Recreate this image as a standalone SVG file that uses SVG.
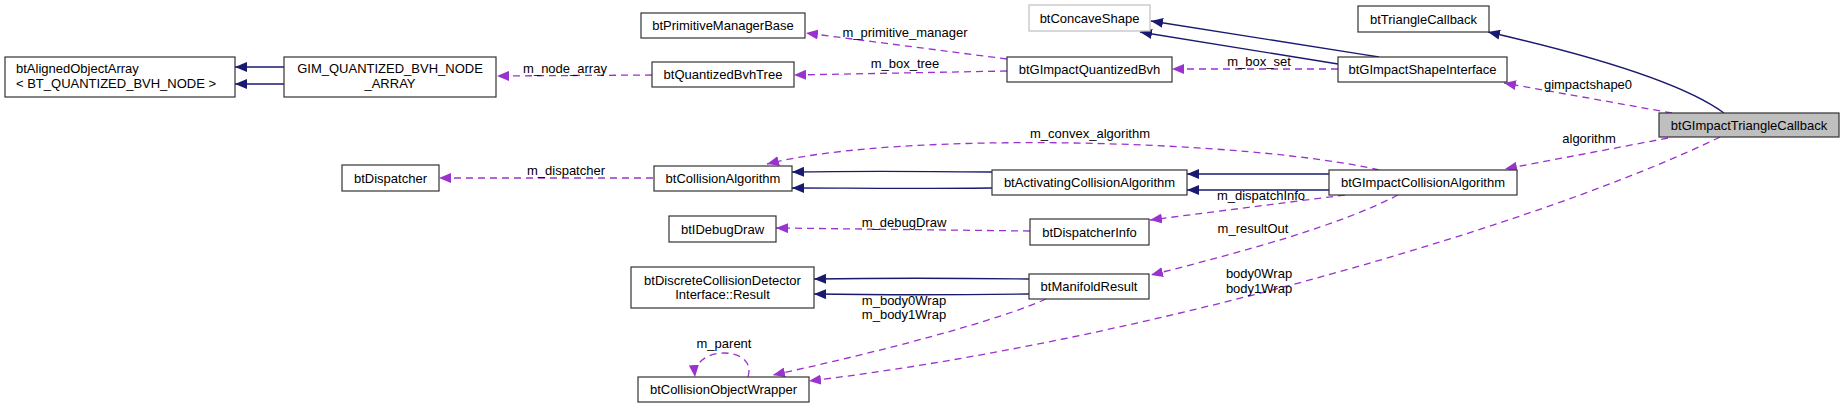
<svg xmlns="http://www.w3.org/2000/svg" width="1844" height="408" viewBox="0 0 1844 408">
<style>
text{font-family:"Liberation Sans",Arial,sans-serif;font-size:13px;fill:#000}
.n rect{fill:#fff;stroke:#333;stroke-width:1.2}
.n text{text-anchor:middle}
.g rect{stroke:#bfbfbf}
.cur rect{fill:#bfbfbf}
.inh{fill:none;stroke:#191970;stroke-width:1.3;marker-end:url(#an)}
.use{fill:none;stroke:#9a32cd;stroke-width:1.3;stroke-dasharray:7,5;marker-end:url(#ap)}
.lbl{text-anchor:middle}
</style>
<defs>
<marker id="an" viewBox="0 0 12 10" refX="12" refY="5" markerWidth="12" markerHeight="10" markerUnits="userSpaceOnUse" orient="auto"><path d="M0,0 L12,5 L0,10 z" fill="#191970" stroke="none"/></marker>
<marker id="ap" viewBox="0 0 12 10" refX="12" refY="5" markerWidth="12" markerHeight="10" markerUnits="userSpaceOnUse" orient="auto"><path d="M0,0 L12,5 L0,10 z" fill="#9a32cd" stroke="none"/></marker>
</defs>
<rect width="1844" height="408" fill="#fff"/>
<g id="edges">
<path class="inh" d="M284,67 H235"/>
<path class="inh" d="M284,84 H235"/>
<path class="inh" d="M1379,57 C1300,44 1220,32 1151,21"/>
<path class="inh" d="M1338,64 C1260,52 1200,42 1140,32"/>
<path class="inh" d="M1724,113 C1690,88 1620,62 1488,32"/>
<path class="inh" d="M992,172 C900,171 850,171 792,172"/>
<path class="inh" d="M992,188 C900,189 850,188 792,188"/>
<path class="inh" d="M1329,174 H1187"/>
<path class="inh" d="M1329,190 H1187"/>
<path class="inh" d="M1029,279 C950,278 880,278 814,279"/>
<path class="inh" d="M1029,294 C950,295 880,295 814,294"/>
<path class="use" d="M652,75 L497,76"/>
<path class="use" d="M1007,59 L806,33"/>
<path class="use" d="M1007,71 L794,75"/>
<path class="use" d="M1338,69 L1172,69"/>
<path class="use" d="M1672,113 L1504,83"/>
<path class="use" d="M1668,138 L1505,169"/>
<path class="use" d="M1720,137 C1550,220 1150,340 809,381"/>
<path class="use" d="M1379,170 C1250,140 900,130 767,164"/>
<path class="use" d="M653,178 L439,178"/>
<path class="use" d="M1345,195 L1150,220"/>
<path class="use" d="M1030,231 L776,228"/>
<path class="use" d="M1398,195 C1340,225 1250,250 1151,275"/>
<path class="use" d="M1046,299 C1000,320 880,352 773,375"/>
<path class="use" d="M748,377 C758,345 692,345 695,377"/>
<text class="lbl" x="565" y="72.5">m_node_array</text>
<text class="lbl" x="905" y="36.5">m_primitive_manager</text>
<text class="lbl" x="905" y="67.5">m_box_tree</text>
<text class="lbl" x="1259" y="65.5">m_box_set</text>
<text class="lbl" x="1588" y="88.5">gimpactshape0</text>
<text class="lbl" x="1589" y="143">algorithm</text>
<text class="lbl" x="1259" y="277.5">body0Wrap</text>
<text class="lbl" x="1259" y="292.5">body1Wrap</text>
<text class="lbl" x="1090" y="137.5">m_convex_algorithm</text>
<text class="lbl" x="566" y="174.5">m_dispatcher</text>
<text class="lbl" x="1261" y="200">m_dispatchInfo</text>
<text class="lbl" x="904" y="227">m_debugDraw</text>
<text class="lbl" x="1253" y="232.5">m_resultOut</text>
<text class="lbl" x="904" y="304.5">m_body0Wrap</text>
<text class="lbl" x="904" y="318.5">m_body1Wrap</text>
<text class="lbl" x="724" y="348">m_parent</text>
</g>
<g id="btAlignedObjectArray" class="n"><rect x="5" y="57" width="230" height="40"/><text x="16" y="72.5" style="text-anchor:start">btAlignedObjectArray</text><text x="16" y="87.5" style="text-anchor:start">&lt; BT_QUANTIZED_BVH_NODE &gt;</text></g>
<g id="GIM_QUANTIZED_BVH_NODE_ARRAY" class="n"><rect x="284" y="57" width="212" height="40"/><text x="390" y="72.5">GIM_QUANTIZED_BVH_NODE</text><text x="390" y="87.5">_ARRAY</text></g>
<g id="btPrimitiveManagerBase" class="n"><rect x="641" y="13" width="164" height="25"/><text x="723" y="30">btPrimitiveManagerBase</text></g>
<g id="btQuantizedBvhTree" class="n"><rect x="652" y="62" width="142" height="25"/><text x="723" y="79">btQuantizedBvhTree</text></g>
<g id="btConcaveShape" class="n g"><rect x="1029" y="5" width="121" height="26"/><text x="1089.5" y="22.5">btConcaveShape</text></g>
<g id="btGImpactQuantizedBvh" class="n"><rect x="1007" y="57" width="165" height="25"/><text x="1089.5" y="74">btGImpactQuantizedBvh</text></g>
<g id="btTriangleCallback" class="n"><rect x="1358" y="6" width="131" height="26"/><text x="1423.5" y="23.5">btTriangleCallback</text></g>
<g id="btGImpactShapeInterface" class="n"><rect x="1338" y="57" width="169" height="25"/><text x="1422.5" y="74">btGImpactShapeInterface</text></g>
<g id="btGImpactTriangleCallback" class="n cur"><rect x="1659" y="113" width="180" height="24"/><text x="1749" y="129.5">btGImpactTriangleCallback</text></g>
<g id="btDispatcher" class="n"><rect x="342" y="165" width="97" height="26"/><text x="390.5" y="182.5">btDispatcher</text></g>
<g id="btCollisionAlgorithm" class="n"><rect x="654" y="166" width="138" height="25"/><text x="723" y="183">btCollisionAlgorithm</text></g>
<g id="btActivatingCollisionAlgorithm" class="n"><rect x="992" y="170" width="195" height="25"/><text x="1089.5" y="187">btActivatingCollisionAlgorithm</text></g>
<g id="btGImpactCollisionAlgorithm" class="n"><rect x="1329" y="170" width="188" height="25"/><text x="1423" y="187">btGImpactCollisionAlgorithm</text></g>
<g id="btIDebugDraw" class="n"><rect x="669" y="216" width="107" height="26"/><text x="722.5" y="233.5">btIDebugDraw</text></g>
<g id="btDispatcherInfo" class="n"><rect x="1030" y="219" width="119" height="26"/><text x="1089.5" y="236.5">btDispatcherInfo</text></g>
<g id="btDiscreteCollisionDetectorInterface_Result" class="n"><rect x="631" y="267" width="183" height="41"/><text x="722.5" y="284.5">btDiscreteCollisionDetector</text><text x="722.5" y="299">Interface::Result</text></g>
<g id="btManifoldResult" class="n"><rect x="1029" y="274" width="120" height="25"/><text x="1089" y="291">btManifoldResult</text></g>
<g id="btCollisionObjectWrapper" class="n"><rect x="638" y="377" width="171" height="25"/><text x="723.5" y="394">btCollisionObjectWrapper</text></g>
</svg>
